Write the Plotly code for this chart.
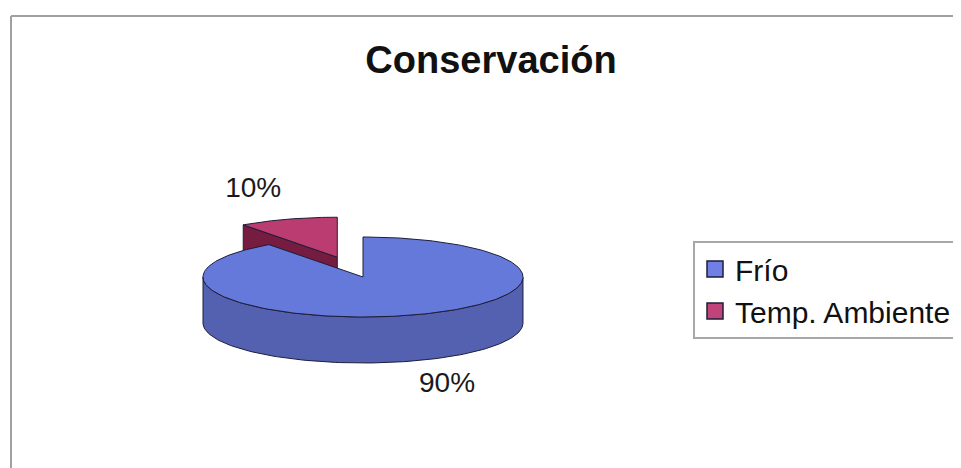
import numpy as np
import plotly.graph_objects as go

# ---- data ----
categories = ["Frío", "Temp. Ambiente"]
values = [90, 10]
explode = [0.0, 0.52]
top_colors = ["#6579DA", "#BB3C70"]
side_colors = ["#5461B0", "#761C40"]
legend_colors = ["#6F7FE6", "#C04478"]
title_text = "Conservación"

# ---- geometry / style ----
OFF = 8.0                  # page body margin of the html page
CX, CY = 363.0, 277.0      # centre of the top face (screen pixels)
RX, RY = 160.0, 40.0       # ellipse radii
DEPTH = 46.0
LABEL_R = 1.7
OUTLINE = "#1E1E3A"
FONT = "Arial, Liberation Sans, sans-serif"

W, H = 961, 468
total = float(sum(values))


def px(x):
    return (x - OFF) / W


def py(y):
    return 1 - (y - OFF) / H


fig = go.Figure()


def pt(theta, off, r=1.0, dz=0.0):
    t = np.radians(theta)
    return CX + off[0] + RX * r * np.cos(t), CY + off[1] - RY * r * np.sin(t) + dz


def poly(xs, ys, fill):
    fig.add_trace(go.Scatter(
        x=list(xs) + [xs[0]], y=list(ys) + [ys[0]], mode="lines", fill="toself",
        fillcolor=fill, line=dict(color=OUTLINE, width=1), hoverinfo="skip",
        showlegend=False))


# slice angles: Excel style, start at 12 o'clock, clockwise
slices = []
cum = 0.0
for i, v in enumerate(values):
    start = 90.0 - cum / total * 360.0
    end = start - v / total * 360.0
    cum += v
    mid = (start + end) / 2.0
    m = np.radians(mid)
    off = (RX * explode[i] * np.cos(m), -RY * explode[i] * np.sin(m))
    slices.append(dict(i=i, start=start, end=end, mid=mid, off=off))

# draw back slices first
order = sorted(slices, key=lambda s: -np.sin(np.radians(s["mid"])))
for s in order:
    i, off = s["i"], s["off"]
    th = np.linspace(s["end"], s["start"], 240)
    # outer wall (visible front part)
    front = th[np.sin(np.radians(th)) <= 0]
    if len(front) > 1:
        xt, yt = pt(front, off)
        xb, yb = pt(front[::-1], off, dz=DEPTH)
        poly(np.concatenate([xt, xb]), np.concatenate([yt, yb]), side_colors[i])
    # radial cut faces facing the viewer
    for ang, nrm in ((s["start"], s["start"] + 90), (s["end"], s["end"] - 90)):
        if np.sin(np.radians(nrm)) < -0.05:
            ax, ay = pt(0, off, r=0)
            rx_, ry_ = pt(ang, off)
            poly([ax, rx_, rx_, ax], [ay, ry_, ry_ + DEPTH, ay + DEPTH], side_colors[i])
    # top face
    ax, ay = pt(0, off, r=0)
    xt, yt = pt(th[::-1], off)
    poly(np.concatenate([[ax], xt]), np.concatenate([[ay], yt]), top_colors[i])

# percentage labels
for s in slices:
    i, off = s["i"], s["off"]
    sn = np.sin(np.radians(s["mid"]))
    lx, ly = pt(s["mid"], off, r=LABEL_R, dz=DEPTH if sn < 0 else 0)
    fig.add_trace(go.Scatter(
        x=[lx], y=[ly - 3], mode="text", text=[f"{values[i] / total:.0%}"],
        textfont=dict(size=28, color="#1A1A1A", family=FONT),
        hoverinfo="skip", showlegend=False))

# legend entries
for i, c in enumerate(categories):
    fig.add_trace(go.Scatter(
        x=[None], y=[None], mode="markers", name=c,
        marker=dict(symbol="square", size=16, color=legend_colors[i],
                    line=dict(color=OUTLINE, width=1.5))))

fig.update_layout(
    width=W, height=H,
    margin=dict(l=0, r=0, t=0, b=0, autoexpand=False),
    paper_bgcolor="white", plot_bgcolor="white",
    xaxis=dict(range=[OFF, W + OFF], visible=False, fixedrange=True),
    yaxis=dict(range=[H + OFF, OFF], visible=False, fixedrange=True),
    title=dict(text="<b>" + title_text + "</b>", x=px(491), y=py(60),
               xanchor="center", yanchor="middle",
               font=dict(size=38, color="#111111", family=FONT)),
    legend=dict(x=px(693), y=py(241), xanchor="left", yanchor="top",
                bgcolor="white", bordercolor="#A8A8A8", borderwidth=2,
                font=dict(size=30, color="#111111", family=FONT),
                itemsizing="trace"),
    shapes=[
        dict(type="line", xref="paper", yref="paper", x0=px(11), x1=1.05,
             y0=py(16), y1=py(16), line=dict(color="#A0A0A0", width=2)),
        dict(type="line", xref="paper", yref="paper", x0=px(11), x1=px(11),
             y0=-0.05, y1=py(16), line=dict(color="#A0A0A0", width=2)),
    ],
    showlegend=True,
)

fig.write_html("out.html")
